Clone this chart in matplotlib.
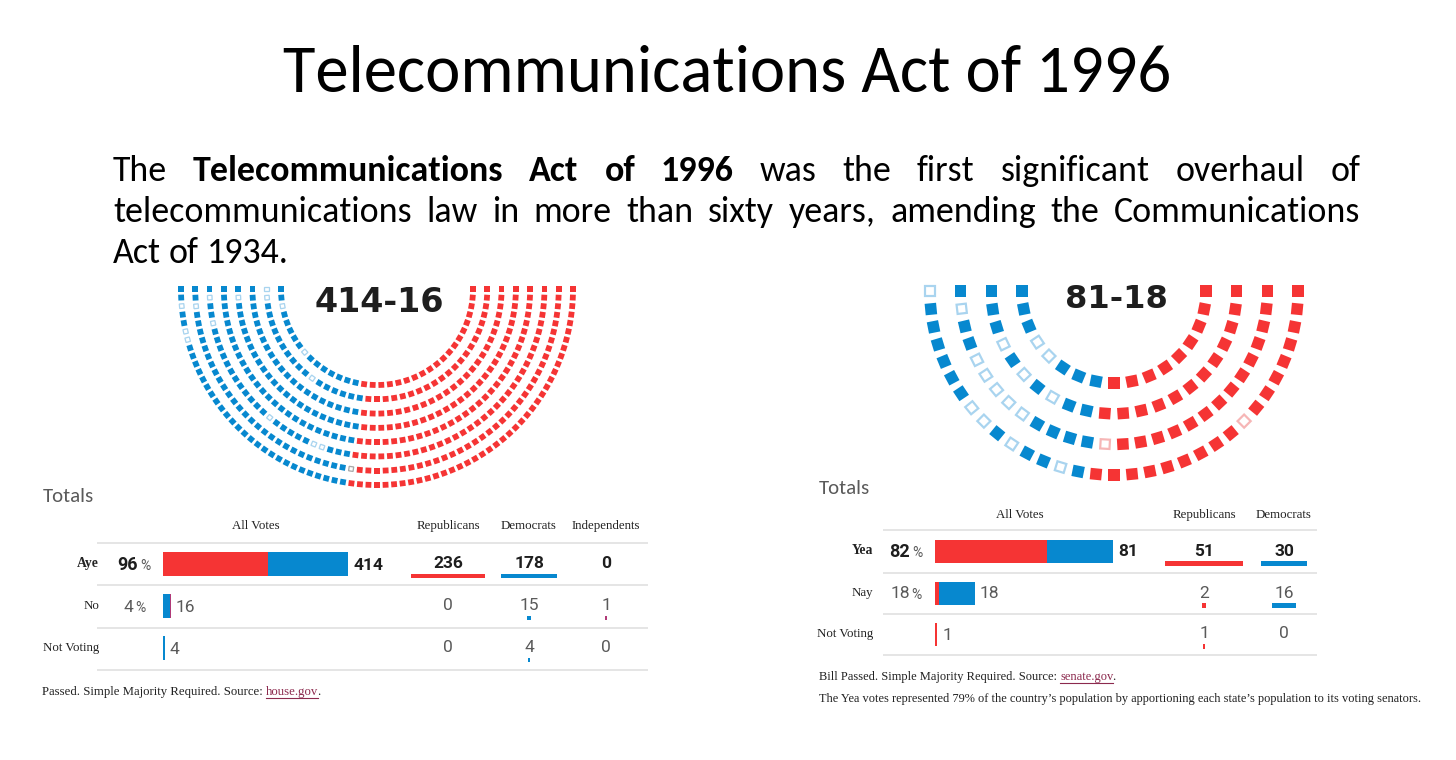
import numpy as np
import matplotlib
matplotlib.use("Agg")
import matplotlib.pyplot as plt
from matplotlib.patches import Rectangle

W, H = 1456, 760

# fonts
SANS = ["Carlito", "Lato", "DejaVu Sans"]
NUM = ["Roboto", "DejaVu Sans"]
SERIF = ["Liberation Serif", "DejaVu Serif"]
TALLY = ["DejaVu Sans"]

RED = "#F53434"
BLUE = "#0788CF"
LBLUE = "#A9D4EF"
PINK = "#F6B6B6"
GREY = "#A8A8A8"
IND = "#B03A78"
LINE = "#E3E3E3"
DARK = "#1E1E1E"
SOFT = "#5A5A5A"

# ---- data ----
title = "Telecommunications Act of 1996"
para_lines = [
    "The Telecommunications Act of 1996 was the first significant overhaul of",
    "telecommunications law in more than sixty years, amending the Communications",
    "Act of 1934.",
]
para_bold_words = [1, 2, 3, 4]  # word indices on the first line

vote_rows_house = ["Aye", "No", "Not Voting"]
house_rep = [236, 0, 0]
house_dem = [178, 15, 4]
house_ind = [0, 1, 0]
house_pct = [96, 4, None]
house_parties = ["Republicans", "Democrats", "Independents"]
house_tally = "414-16"
house_note = ["Passed. Simple Majority Required. Source: ", "house.gov", "."]

vote_rows_senate = ["Yea", "Nay", "Not Voting"]
senate_rep = [51, 2, 1]
senate_dem = [30, 16, 0]
senate_pct = [82, 18, None]
senate_parties = ["Republicans", "Democrats"]
senate_tally = "81-18"
senate_note = ["Bill Passed. Simple Majority Required. Source: ", "senate.gov", "."]
senate_note2 = ("The Yea votes represented 79% of the country\u2019s population by "
                "apportioning each state\u2019s population to its voting senators.")

# seats drawn hollow, as (row from inside, seat index from the left)
house_dem_no_seats = [(1, 0), (1, 1), (5, 1), (3, 1), (7, 2), (6, 2), (0, 2), (5, 4),
                      (7, 5), (7, 6), (0, 8), (1, 12), (5, 17), (5, 23), (5, 24)]
house_ind_seat = (6, 30)
senate_dem_nay_seats = [(0, 3), (0, 4), (1, 3), (1, 5), (1, 7), (2, 1), (2, 4), (2, 5),
                        (2, 6), (2, 7), (2, 8), (3, 0), (3, 7), (3, 8), (3, 10), (3, 13)]
senate_rep_nay_seats = [(2, 13), (3, 24)]


fig = plt.figure(figsize=(W / 100, H / 100), dpi=100)
ax = fig.add_axes([0, 0, 1, 1])
ax.set_xlim(0, W)
ax.set_ylim(H, 0)
ax.axis("off")
renderer = fig.canvas.get_renderer()


def text_width(s, **kw):
    t = ax.text(0, 0, s, **kw)
    w = t.get_window_extent(renderer).width
    t.remove()
    return w


# ---- title + paragraph ----
ax.text(727, 92, title, ha="center", va="baseline", fontsize=48, family=SANS, color="black")

x0, x1 = 113, 1360
# size the paragraph so the second line fills the width with ordinary spaces
PSIZE = 24.0 * (x1 - x0 - 60) / text_width(para_lines[1], fontsize=24.0, family=SANS)
space = text_width("a a", fontsize=PSIZE, family=SANS) - text_width("aa", fontsize=PSIZE, family=SANS)
for li, (line, base) in enumerate(zip(para_lines, [181, 222, 263])):
    words = line.split()
    weights = ["bold" if (li == 0 and i in para_bold_words) else "normal" for i in range(len(words))]
    widths = [text_width(w, fontsize=PSIZE, fontweight=b, family=SANS) for w, b in zip(words, weights)]
    last = li == len(para_lines) - 1
    gap = space if last else (x1 - x0 - sum(widths)) / (len(words) - 1)
    x = x0
    for w, b, wd in zip(words, weights, widths):
        ax.text(x, base, w, ha="left", va="baseline", fontsize=PSIZE, fontweight=b,
                family=SANS, color="black")
        x += wd + gap


# ---- hemicycles (bowl opening upwards) ----
def seat_layout(n_seats, n_rows, r_in, r_out):
    radii = np.linspace(r_in, r_out, n_rows)
    share = n_seats * radii / radii.sum()
    counts = np.floor(share).astype(int)
    extra = n_seats - counts.sum()
    counts[np.argsort(-(share - counts))[:extra]] += 1
    seats = []
    for row, (r, n) in enumerate(zip(radii, counts)):
        for j, a in enumerate(np.linspace(np.pi, 0, n)):
            seats.append((row, j, r, a))
    seats.sort(key=lambda s: (-round(s[3], 9), s[2]))
    return seats


def hemicycle(cx, cy, r_in, r_out, n_rows, n_left, n_right, size, edge,
              hollow_left, hollow_right, grey_seat=None):
    seats = seat_layout(n_left + n_right, n_rows, r_in, r_out)
    for rank, (row, j, r, a) in enumerate(seats):
        x = cx + r * np.cos(a)
        y = cy + r * np.sin(a)
        left = rank < n_left
        key = (row, j)
        if grey_seat is not None and key == grey_seat:
            face, ec = "white", GREY
        elif left and key in hollow_left:
            face, ec = "white", LBLUE
        elif (not left) and key in hollow_right:
            face, ec = "white", PINK
        else:
            face, ec = (BLUE if left else RED), None
        if ec is None:
            s = size
            p = Rectangle((x - s / 2, y - s / 2), s, s, angle=np.degrees(a),
                          rotation_point="center", facecolor=face, linewidth=0)
        else:
            s = size - edge
            p = Rectangle((x - s / 2, y - s / 2), s, s, angle=np.degrees(a),
                          rotation_point="center", facecolor=face, edgecolor=ec,
                          linewidth=edge * 0.72)
        ax.add_patch(p)


hemicycle(377, 289, 96, 196, 8, sum(house_dem) + sum(house_ind), sum(house_rep),
          5.8, 1.3, house_dem_no_seats, [], house_ind_seat)
hemicycle(1114, 291, 92, 184, 4, sum(senate_dem), sum(senate_rep),
          11.5, 2.2, senate_dem_nay_seats, senate_rep_nay_seats)

ax.text(379, 302, house_tally, ha="center", va="center", fontsize=24, fontweight="bold",
        family=TALLY, color=DARK)
ax.text(1116, 300, senate_tally, ha="center", va="center", fontsize=23, fontweight="bold",
        family=TALLY, color=DARK)


# ---- tables ----
def vote_table(rows, rep, dem, ind, pct, parties, geo):
    ax.text(geo["totals"][0], geo["totals"][1], "Totals", ha="left", va="center",
            fontsize=15, family=SANS, fontweight="light", color=SOFT)
    ax.text(geo["allx"], geo["head_y"], "All Votes", ha="center", va="center",
            fontsize=9.3, family=SERIF, color="#222222")
    for name, cx in zip(parties, geo["cols"]):
        ax.text(cx, geo["head_y"], name, ha="center", va="center", fontsize=9.3,
                family=SERIF, color="#222222")
    for ly in geo["lines"]:
        ax.plot([geo["line_x"][0], geo["line_x"][1]], [ly, ly], color=LINE, lw=1.3,
                solid_capstyle="butt")

    groups = [(rep, RED), (dem, BLUE)] + ([(ind, IND)] if ind is not None else [])
    for i, (label, ry) in enumerate(zip(rows, geo["row_y"])):
        first = i == 0
        ax.text(geo["label_x"], ry, label, ha="right", va="center",
                fontsize=9.8 if first else 9.3, family=SERIF,
                fontweight="bold" if first else "normal", color="#222222")
        # percentage
        if pct[i] is not None:
            nkw = dict(fontsize=13 if first else 12.5, family=NUM,
                       fontweight="bold" if first else "normal",
                       color=DARK if first else SOFT)
            pkw = dict(fontsize=10, family=NUM, color=SOFT)
            wn = text_width(str(pct[i]), **nkw)
            wp = text_width("%", **pkw)
            xs = geo["pct_x"] - (wn + 2 + wp) / 2
            ax.text(xs, ry + 1, str(pct[i]), ha="left", va="center", **nkw)
            ax.text(xs + wn + 2, ry + 2, "%", ha="left", va="center", **pkw)
        # stacked bar of all votes
        left = geo["bar_x"]
        for vals, col in groups:
            w = vals[i] * geo["bar_scale"]
            if vals[i] > 0:
                ax.barh(ry, max(w, 1.6), left=left, height=geo["bar_h"], color=col,
                        linewidth=0)
            left += w
        total = sum(vals[i] for vals, _ in groups)
        nkw = dict(fontsize=12.5, family=NUM, fontweight="bold" if first else "normal",
                   color=DARK if first else SOFT)
        ax.text(max(left, geo["bar_x"] + 1.6) + 5, ry + 1, str(total), ha="left",
                va="center", **nkw)
        # party columns
        for (vals, col), cx in zip(groups, geo["cols"]):
            ax.text(cx, ry, str(vals[i]), ha="center", va="center", **nkw)
            if vals[i] > 0:
                w = max(vals[i] * geo["party_scale"], 1.5)
                ax.barh(ry + geo["ul_dy"], w, left=cx - w / 2, height=geo["ul_h"],
                        color=col, linewidth=0)


def note(x, y, parts, size):
    kw = dict(fontsize=size, family=SERIF, va="center", ha="left")
    pre, link, post = parts
    sp = text_width("a a", **kw) - text_width("aa", **kw)
    ax.text(x, y, pre, color="#222222", **kw)
    xl = x + text_width(pre.rstrip(), **kw) + sp
    ax.text(xl, y, link, color="#8C2A4E", **kw)
    wl = text_width(link, **kw)
    ax.plot([xl, xl + wl], [y + 6, y + 6], color="#8C2A4E", lw=0.8)
    ax.text(xl + wl - 1, y, post, color="#222222", **kw)


house_geo = dict(totals=(43, 497), head_y=526, allx=256, cols=[448, 529, 606],
                 lines=[543, 585, 628, 670], line_x=(97, 648), row_y=[564, 606, 648],
                 label_x=99, pct_x=134, bar_x=163, bar_scale=0.447, bar_h=24,
                 party_scale=0.31, ul_dy=12, ul_h=4)
senate_geo = dict(totals=(819, 488), head_y=515, allx=1020, cols=[1204, 1284],
                  lines=[530, 573, 614, 655], line_x=(883, 1317), row_y=[551, 593, 634],
                  label_x=873, pct_x=906, bar_x=935, bar_scale=2.2, bar_h=23,
                  party_scale=1.53, ul_dy=12, ul_h=5)

vote_table(vote_rows_house, house_rep, house_dem, house_ind, house_pct, house_parties, house_geo)
vote_table(vote_rows_senate, senate_rep, senate_dem, None, senate_pct, senate_parties, senate_geo)

note(42, 692, house_note, 9.2)
note(819, 677, senate_note, 9)
ax.text(819, 699, senate_note2, fontsize=8.9, family=SERIF, va="center", ha="left",
        color="#222222")

fig.savefig("out.png", dpi=100, facecolor="white")
